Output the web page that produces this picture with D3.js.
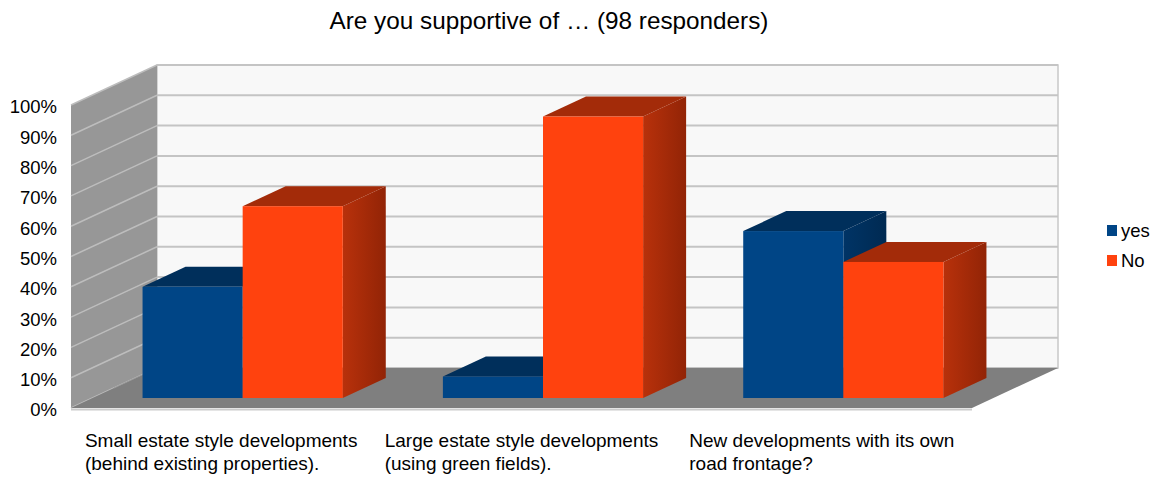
<!DOCTYPE html>
<html>
<head>
<meta charset="utf-8">
<script src="https://cdn.jsdelivr.net/npm/d3@7"></script>
<style>
  html, body { margin: 0; padding: 0; background: #ffffff; }
  svg { display: block; font-family: "Liberation Sans", Arial, sans-serif; }
</style>
</head>
<body>
<svg id="chart" width="1162" height="477"></svg>
<script>
// Survey results: share of responders supporting each kind of development
const chartTitle = "Are you supportive of … (98 responders)";
const categories = [
  "Small estate style developments (behind existing properties).",
  "Large estate style developments (using green fields).",
  "New developments with its own road frontage?"
];
const categoryLines = [
  ["Small estate style developments", "(behind existing properties)."],
  ["Large estate style developments", "(using green fields)."],
  ["New developments with its own", "road frontage?"]
];
const seriesNames = ["yes", "No"];
const yesValues = [36.7, 7.1, 55.1];
const noValues = [63.3, 92.9, 44.9];
const tickValues = [0, 10, 20, 30, 40, 50, 60, 70, 80, 90, 100];

const seriesValues = { yes: yesValues, No: noValues };
const seriesStyle = {
  yes: { front: "#004586", top: "#002f5b", side0: "#003466", side1: "#002a52" },
  No:  { front: "#ff420e", top: "#a32b09", side0: "#b8310b", side1: "#922406" }
};

const svg = d3.select("#chart");

// Front plane of the 3D box and the depth vector toward the back wall
const DX = 86, DY = -40;
const x0 = d3.scaleBand().domain(categories).range([71, 972]);
const x1 = d3.scaleBand().domain(seriesNames).range([0, x0.bandwidth()]).paddingOuter(0.5);
const y = d3.scaleLinear().domain([0, 100]).range([408, 105]);

const poly = pts => pts.map(p => p.join(",")).join(" ");

// Gradient used on the right-hand faces of the bars
const defs = svg.append("defs");
seriesNames.forEach(s => {
  const g = defs.append("linearGradient").attr("id", "side-" + s)
    .attr("x1", "0").attr("x2", "1").attr("y1", "0").attr("y2", "0");
  g.append("stop").attr("offset", "0").attr("stop-color", seriesStyle[s].side0);
  g.append("stop").attr("offset", "1").attr("stop-color", seriesStyle[s].side1);
});

// Back wall
const xL = x0.range()[0], xR = x0.range()[1];
svg.append("rect")
  .attr("x", xL + DX).attr("y", y(100) + DY)
  .attr("width", xR - xL).attr("height", y(0) - y(100))
  .attr("fill", "#f8f8f8").attr("stroke", "#c8c8c8").attr("stroke-width", 1.5);

svg.append("g").selectAll("line").data(tickValues).join("line")
  .attr("x1", xL + DX).attr("x2", xR + DX)
  .attr("y1", d => y(d) + DY).attr("y2", d => y(d) + DY)
  .attr("stroke", "#c4c4c4").attr("stroke-width", 2);

// Left side wall
svg.append("polygon")
  .attr("points", poly([[xL, y(100)], [xL + DX, y(100) + DY], [xL + DX, y(0) + DY], [xL, y(0)]]))
  .attr("fill", "#979797");

svg.append("g").selectAll("line").data(tickValues).join("line")
  .attr("x1", xL).attr("x2", xL + DX)
  .attr("y1", d => y(d)).attr("y2", d => y(d) + DY)
  .attr("stroke", "#bdbdbd").attr("stroke-width", 1.5);

// Floor
svg.append("polygon")
  .attr("points", poly([[xL, y(0)], [xR, y(0)], [xR + DX, y(0) + DY], [xL + DX, y(0) + DY]]))
  .attr("fill", "#7f7f7f");
svg.append("line")
  .attr("x1", xL).attr("x2", xR).attr("y1", y(0) + 1.5).attr("y2", y(0) + 1.5)
  .attr("stroke", "#cccccc").attr("stroke-width", 2);
svg.append("line")
  .attr("x1", xL + DX * 0.5).attr("x2", xL + DX).attr("y1", y(0) + DY * 0.5).attr("y2", y(0) + DY)
  .attr("stroke", "#9a9a9a").attr("stroke-width", 1);

// Bars: each one occupies the middle half of the depth
const dFront = 0.25, dBack = 0.75;
const bars = [];
categories.forEach((c, i) => {
  seriesNames.forEach(s => bars.push({ cat: c, series: s, value: seriesValues[s][i] }));
});

const barG = svg.append("g");
bars.forEach(b => {
  const st = seriesStyle[b.series];
  const xl = x0(b.cat) + x1(b.series) + DX * dFront;
  const xr = xl + x1.bandwidth();
  const yt = y(b.value) + DY * dFront;
  const yb = y(0) + DY * dFront;
  const ddx = DX * (dBack - dFront), ddy = DY * (dBack - dFront);
  const g = barG.append("g");
  g.append("polygon")
    .attr("points", poly([[xr, yt], [xr + ddx, yt + ddy], [xr + ddx, yb + ddy], [xr, yb]]))
    .attr("fill", "url(#side-" + b.series + ")");
  g.append("polygon")
    .attr("points", poly([[xl, yt], [xr, yt], [xr + ddx, yt + ddy], [xl + ddx, yt + ddy]]))
    .attr("fill", st.top);
  g.append("rect")
    .attr("x", xl).attr("y", yt).attr("width", xr - xl).attr("height", yb - yt)
    .attr("fill", st.front);
});

// Y axis labels
svg.append("g").selectAll("text").data(tickValues).join("text")
  .attr("x", 57).attr("y", d => y(d) + 2).attr("dy", "0.35em")
  .attr("text-anchor", "end").attr("font-size", 18.5).attr("fill", "#000")
  .text(d => d + "%");

// Category labels: left-aligned lines, block centred under each group
categories.forEach((c, i) => {
  const t = svg.append("text").attr("font-size", 19).attr("fill", "#000");
  categoryLines[i].forEach((line, k) => {
    t.append("tspan").attr("y", 447 + k * 23).text(line);
  });
  const w = d3.max(t.selectAll("tspan").nodes(), n => n.getComputedTextLength());
  const left = x0(c) + x0.bandwidth() / 2 - w / 2;
  t.selectAll("tspan").attr("x", left);
});

// Title
svg.append("text")
  .attr("x", 549).attr("y", 29).attr("text-anchor", "middle")
  .attr("font-size", 24.3).attr("fill", "#000")
  .text(chartTitle);

// Legend
const legend = svg.append("g").attr("transform", "translate(1107,225)");
seriesNames.forEach((s, i) => {
  legend.append("rect").attr("x", 0).attr("y", i * 30).attr("width", 10).attr("height", 11)
    .attr("fill", seriesStyle[s].front);
  legend.append("text").attr("x", 14).attr("y", i * 30 + 5.5).attr("dy", "0.35em")
    .attr("font-size", 18.5).attr("fill", "#000").text(s);
});
</script>
</body>
</html>
